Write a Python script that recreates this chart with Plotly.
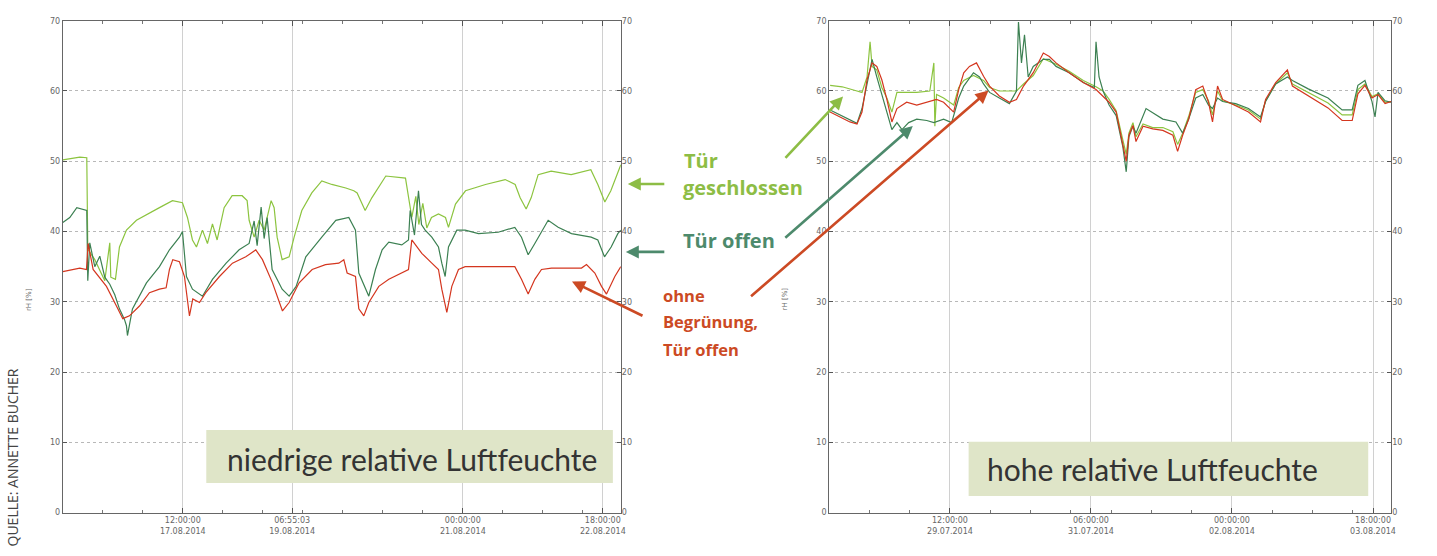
import plotly.graph_objects as go

# ---------------- data: hours since start of each measurement window ----------------
# Window 1: 16.08.2014 00:00 onward (low relative humidity)
low_closed_h = [0.0, 2.1, 5.1, 7.2, 7.5, 9.6, 11.1, 12.6, 14.1, 14.4, 15.8, 17.0, 19.1, 22.1, 29.0, 32.9,
                35.9, 37.4, 38.9, 40.1, 41.9, 43.4, 44.9, 46.3, 48.4, 50.8, 53.8, 55.3, 55.9, 57.4, 58.9,
                60.4, 62.5, 63.4, 64.3, 65.8, 67.9, 69.4, 71.7, 74.7, 77.7, 80.7, 84.9, 87.3, 88.3, 90.7,
                92.7, 96.9, 102.8, 103.8, 104.7, 105.9, 106.8, 108.0, 109.2, 110.6, 112.7, 114.8, 115.7,
                117.8, 120.8, 126.8, 132.7, 135.7, 137.2, 139.0, 140.5, 142.6, 146.5, 152.5, 158.4, 160.5,
                162.6, 164.4, 167.4]
low_closed_v = [50.2, 50.4, 50.6, 50.5, 37.5, 36.0, 34.5, 33.0, 38.4, 33.5, 33.2, 37.8, 40.2, 41.6, 43.4, 44.4,
                44.1, 42.0, 38.8, 37.8, 40.2, 38.3, 41.1, 38.8, 43.4, 45.1, 45.1, 44.4, 41.6, 39.2, 41.6,
                40.2, 44.4, 43.4, 39.2, 36.0, 36.4, 39.2, 43.0, 45.5, 47.2, 46.7, 46.2, 45.8, 45.5, 43.0,
                44.8, 47.9, 47.6, 44.8, 42.0, 45.0, 41.0, 44.0, 40.5, 42.0, 42.5, 42.0, 40.6,
                43.9, 45.8, 46.7, 47.4, 46.7, 44.8, 43.2, 44.8, 48.1, 48.6, 48.1, 48.8, 46.7,
                44.2, 45.8, 49.5]

low_open_h = [0.0, 2.1, 4.2, 6.0, 7.2, 7.5, 8.1, 9.6, 11.1, 12.6, 14.1, 15.6, 17.0, 18.5, 19.1, 19.4, 20.9,
              25.1, 29.0, 32.0, 35.0, 35.9, 37.1, 38.9, 41.9, 44.9, 49.0, 52.9, 55.9, 57.4, 58.3, 59.5,
              60.4, 61.3, 62.2, 62.8, 65.8, 67.9, 70.0, 72.9, 77.7, 81.9, 85.8, 87.8, 88.8, 90.8, 91.8,
              93.8, 95.8, 97.8, 101.7, 103.7, 104.2, 105.5, 106.7, 107.6, 108.7, 110.7, 112.7, 113.7,
              114.7, 115.7, 118.2, 120.7, 124.7, 130.6, 135.6, 137.6, 139.6, 141.6, 145.6, 148.6, 152.6,
              158.5, 160.5, 162.5, 164.5, 166.5, 167.4]
low_open_v = [41.3, 42.0, 43.4, 43.2, 43.0, 33.0, 38.4, 35.0, 36.5, 33.5, 32.5, 31.0, 29.0, 27.5, 26.6, 25.2, 29.0,
              32.7, 35.0, 37.4, 39.2, 40.0, 33.6, 31.8, 30.8, 33.2, 35.5, 37.4, 38.3, 41.5, 38.0, 43.5,
              39.0, 42.0, 37.8, 34.6, 31.8, 30.8, 32.2, 36.4, 39.2, 41.6, 42.0, 40.2, 34.1, 31.8, 30.8,
              34.6, 37.4, 38.5, 38.1, 38.8, 43.0, 39.5, 45.8, 41.0, 40.2, 39.2, 37.8, 35.5,
              33.6, 37.8, 40.2, 40.2, 39.7, 39.9, 40.6, 39.2, 36.7, 38.3, 41.6, 40.6, 39.7,
              39.2, 38.8, 36.4, 37.8, 39.7, 40.2]

low_bare_h = [0.0, 5.1, 7.1, 7.6, 9.1, 13.1, 16.1, 18.0, 20.0, 23.0, 26.0, 29.0, 31.0, 32.0, 33.0, 35.0,
              36.5, 37.5, 38.0, 39.0, 41.0, 42.9, 47.0, 50.9, 54.9, 57.9, 59.9, 62.9, 64.9, 65.9, 67.9,
              70.9, 74.8, 78.8, 82.8, 84.3, 85.3, 87.8, 88.8, 90.3, 91.8, 94.8, 97.8, 101.7, 103.7,
              104.7, 107.7, 110.7, 112.7, 113.7, 115.2, 116.7, 118.7, 120.7, 135.6, 137.6, 139.6, 141.6,
              143.6, 146.6, 155.6, 157.1, 159.6, 161.6, 163.1, 165.6, 167.4]
low_bare_v = [34.3, 34.8, 34.6, 38.3, 34.6, 32.2, 29.4, 27.6, 28.0, 29.4, 31.3, 31.8, 32.0, 34.6, 36.0, 35.7,
              33.6, 29.9, 28.0, 30.4, 29.9, 31.3, 33.6, 35.5, 36.4, 37.4, 36.0, 32.7, 29.9, 28.7, 29.9,
              32.7, 34.6, 35.3, 35.5, 36.0, 34.1, 33.6, 29.0, 28.0, 29.9, 32.2, 33.2, 34.1, 34.6,
              38.8, 36.9, 35.5, 34.6, 31.8, 28.5, 32.2, 34.6, 35.0, 35.0, 33.2, 31.1, 33.2,
              34.6, 34.8, 34.8, 35.3, 34.1, 32.2, 31.1, 33.6, 35.0]

# Window 2: 28.07.2014 00:00 onward (high relative humidity)
high_closed_h = [0.3, 3.9, 8.3, 9.8, 11.3, 12.2, 12.8, 14.2, 15.7, 17.2, 18.7, 20.2, 26.1, 30.0, 31.2, 31.5,
                 32.0, 34.1, 37.1, 38.6, 40.1, 43.0, 46.0, 47.8, 50.7, 53.7, 55.8, 57.9, 60.8, 63.8, 67.6,
                 71.5, 75.7, 79.5, 81.6, 83.4, 85.5, 87.5, 88.5, 89.3, 90.5, 91.4, 93.5, 96.4, 99.4, 102.4,
                 103.8, 105.3, 107.1, 109.2, 111.3, 113.0, 114.2, 115.7, 117.2, 121.1, 124.9, 128.5, 130.0,
                 133.0, 136.5, 138.0, 142.7, 148.6, 152.8, 155.8, 157.5, 159.6, 161.7, 163.5, 165.6, 167.4]
high_closed_v = [60.8, 60.6, 60.0, 59.8, 62.0, 67.0, 63.5, 63.0, 60.5, 59.0, 57.0, 59.8, 59.8, 60.0, 64.0, 55.0,
                 59.5, 59.0, 58.0, 60.5, 61.5, 62.2, 61.5, 60.5, 60.0, 60.0, 60.0, 61.0, 62.2, 64.6, 63.8,
                 62.8, 61.5, 60.6, 60.0, 58.8, 57.2, 53.0, 51.0, 54.0, 55.5, 53.5, 55.3, 54.8, 54.8, 54.2,
                 52.4, 54.0, 56.4, 59.8, 60.2, 58.6, 56.6, 60.0, 58.6, 58.0, 57.3, 56.0, 58.6,
                 61.0, 62.6, 61.0, 59.8, 58.3, 56.6, 56.6, 60.2, 61.0, 59.2, 59.6, 58.4, 58.5]

high_open_h = [0.3, 2.4, 6.2, 8.3, 9.8, 11.3, 12.8, 14.2, 15.7, 17.2, 18.7, 20.2, 21.7, 23.7, 26.1, 29.1,
               31.2, 34.1, 36.5, 38.6, 40.1, 43.0, 44.8, 46.0, 47.8, 50.7, 53.7, 55.8, 56.4, 57.3, 58.2,
               59.3, 60.8, 63.8, 65.6, 67.6, 71.5, 75.7, 79.0, 79.5, 80.4, 81.6, 83.4, 85.5, 87.5, 88.5,
               89.3, 90.5, 91.4, 94.4, 99.4, 103.3, 105.3, 107.1, 109.2, 111.3, 113.0, 114.2, 115.7, 117.2,
               121.1, 124.9, 128.5, 130.0, 133.0, 136.5, 138.0, 142.7, 148.6, 152.8, 155.8, 157.5, 159.6,
               161.7, 162.6, 163.5, 165.6, 167.4]
high_open_v = [57.3, 56.8, 55.8, 55.4, 57.5, 61.0, 64.5, 62.0, 59.5, 57.0, 54.5, 55.5, 54.5, 55.5, 56.0, 55.8,
               55.5, 56.0, 55.5, 59.0, 60.7, 62.6, 62.0, 61.0, 59.8, 59.0, 58.2, 60.0, 69.8, 64.0, 68.0,
               62.0, 63.5, 64.5, 64.5, 63.5, 62.6, 61.2, 60.5, 67.0, 62.0, 60.0, 58.0, 56.5, 52.0, 48.5,
               53.5, 55.0, 54.0, 57.5, 56.0, 55.6, 54.0, 56.0, 59.0, 59.5, 58.0, 57.5, 59.0, 58.5,
               58.2, 57.5, 56.3, 58.5, 61.0, 62.0, 61.5, 60.3, 59.0, 57.3, 57.3, 60.8, 61.5,
               58.5, 56.3, 59.8, 58.6, 58.4]

high_bare_h = [0.3, 2.4, 6.2, 8.3, 9.8, 11.3, 12.8, 14.2, 15.7, 17.2, 18.7, 20.2, 23.1, 26.1, 29.1, 32.0,
               34.1, 37.1, 38.6, 40.1, 41.8, 43.9, 46.0, 47.8, 50.7, 53.7, 55.8, 57.9, 60.8, 63.8, 65.6,
               67.6, 71.5, 75.7, 79.5, 81.6, 83.4, 85.5, 87.5, 88.5, 89.3, 90.5, 91.4, 93.5, 96.4, 99.4,
               102.4, 103.8, 105.3, 107.1, 109.2, 111.3, 113.0, 114.2, 115.7, 117.2, 121.1, 124.9, 128.5,
               130.0, 133.0, 136.5, 138.0, 142.7, 148.6, 152.8, 155.8, 157.5, 159.6, 161.7, 163.5, 165.6, 167.4]
high_bare_v = [57.0, 56.5, 55.6, 55.3, 57.0, 61.6, 64.0, 63.5, 61.6, 58.8, 55.6, 57.5, 58.4, 58.0, 58.4, 58.8,
               58.4, 57.0, 60.2, 62.6, 63.5, 64.0, 62.1, 60.7, 59.3, 58.4, 58.8, 60.7, 62.6, 65.4, 64.9,
               64.0, 62.6, 61.2, 60.2, 59.3, 58.4, 57.0, 52.3, 50.0, 53.7, 55.1, 52.8, 55.0, 54.6, 54.4,
               53.7, 51.4, 53.7, 56.0, 60.2, 60.7, 58.4, 55.6, 60.7, 58.8, 57.9, 57.0, 55.6,
               58.8, 61.2, 63.0, 60.7, 59.3, 57.6, 55.8, 55.8, 59.6, 60.8, 59.0, 59.5, 58.2, 58.5]

# tick positions (hours) and their labels
low_tick_h = [36, 68.8, 120, 162]
low_tick_text = ["12:00:00<br>17.08.2014", "06:55:03<br>19.08.2014",
                 "00:00:00<br>21.08.2014", "18:00:00<br>22.08.2014"]
high_tick_h = [36, 78, 120, 162]
high_tick_text = ["12:00:00<br>29.07.2014", "06:00:00<br>31.07.2014",
                  "00:00:00<br>02.08.2014", "18:00:00<br>03.08.2014"]
rh_ticks = [0, 10, 20, 30, 40, 50, 60, 70]

# ---------------- styling ----------------
W, H = 1437, 556
C_CLOSED = "#8cc43f"
C_OPEN = "#3c8052"
C_BARE = "#d4361f"
TXT_CLOSED = "#8dbd45"
TXT_OPEN = "#4d8a6c"
TXT_BARE = "#cc4a24"
BOX_FILL = "#dfe5c8"
TICK_FONT = dict(family="DejaVu Sans", size=8, color="#666666")


def px_x(p):
    return p / W


def px_y(p):
    return 1 - p / H


fig = go.Figure()

series = [
    ("x", "y", low_closed_h, low_closed_v, C_CLOSED),
    ("x", "y", low_open_h, low_open_v, C_OPEN),
    ("x", "y3", low_bare_h, low_bare_v, C_BARE),
    ("x2", "y2", high_closed_h, high_closed_v, C_CLOSED),
    ("x2", "y2", high_open_h, high_open_v, C_OPEN),
    ("x2", "y4", high_bare_h, high_bare_v, C_BARE),
]
for xa, ya, xs, ys, col in series:
    fig.add_trace(go.Scatter(x=xs, y=ys, xaxis=xa, yaxis=ya, mode="lines",
                             line=dict(color=col, width=1.2), showlegend=False,
                             hoverinfo="skip"))

dom_low = [px_x(63), px_x(623)]
dom_high = [px_x(832), px_x(1396)]
dom_y = [px_y(517), px_y(17)]

xcommon = dict(range=[0, 167.4], showline=True, linecolor="#666666", linewidth=1, mirror="ticks",
               ticks="inside", ticklen=5, tickcolor="#555555", tickfont=TICK_FONT,
               showgrid=True, gridcolor="#d0d0d0", gridwidth=1, zeroline=False,
               minor=dict(dtick=12, tick0=0, ticks="inside", ticklen=3, tickcolor="#777777",
                          showgrid=False))
ycommon = dict(range=[0, 70], tickvals=rh_ticks, showline=True, linecolor="#666666", linewidth=1,
               mirror=True, ticks="inside", ticklen=4, tickcolor="#555555", tickfont=TICK_FONT,
               showgrid=True, gridcolor="#b8b8b8", griddash="dot", gridwidth=1, zeroline=False,
               domain=dom_y)
yright = dict(range=[0, 70], tickvals=rh_ticks, side="right", showgrid=False, zeroline=False,
              ticks="inside", ticklen=4, tickcolor="#555555", tickfont=TICK_FONT, showline=False)

fig.update_layout(
    width=W, height=H, margin=dict(l=0, r=0, t=0, b=0),
    paper_bgcolor="white", plot_bgcolor="white",
    xaxis=dict(domain=dom_low, anchor="y", tickvals=low_tick_h, ticktext=low_tick_text, **xcommon),
    xaxis2=dict(domain=dom_high, anchor="y2", tickvals=high_tick_h, ticktext=high_tick_text, **xcommon),
    yaxis=dict(anchor="x", **ycommon),
    yaxis2=dict(anchor="x2", **ycommon),
    yaxis3=dict(overlaying="y", anchor="x", **yright),
    yaxis4=dict(overlaying="y2", anchor="x2", **yright),
)

# olive caption boxes
shapes = []
for (x0, y0, x1, y1) in [(207, 433, 615, 487), (972, 445, 1373, 500)]:
    shapes.append(dict(type="rect", xref="paper", yref="paper", x0=px_x(x0), x1=px_x(x1),
                       y0=px_y(y1), y1=px_y(y0), fillcolor=BOX_FILL, line=dict(width=0), layer="above"))
fig.update_layout(shapes=shapes)

ann = []
caption_font = dict(family="Lato", size=30, color="#333333")
ann.append(dict(xref="paper", yref="paper", x=px_x(413), y=px_y(462), text="niedrige relative Luftfeuchte",
                showarrow=False, font=caption_font, xanchor="center", yanchor="middle"))
ann.append(dict(xref="paper", yref="paper", x=px_x(1157), y=px_y(473), text="hohe relative Luftfeuchte",
                showarrow=False, font=caption_font, xanchor="center", yanchor="middle"))

# series labels between the panels
for txt, x, y, col, size in [("Tür", 684, 159, TXT_CLOSED, 20), ("geschlossen", 683, 187, TXT_CLOSED, 20),
                             ("Tür offen", 683, 240, TXT_OPEN, 20),
                             ("ohne", 663, 296, TXT_BARE, 16.5), ("Begrünung,", 663, 323, TXT_BARE, 16.5),
                             ("Tür offen", 663, 351, TXT_BARE, 16.5)]:
    ann.append(dict(xref="paper", yref="paper", x=px_x(x), y=px_y(y), text=txt, showarrow=False,
                    xanchor="left", yanchor="middle",
                    font=dict(family="Open Sans", size=size, weight="bold", color=col)))

# arrows: (tail px, head px, colour)
arrows = [((668, 183), (630, 183), TXT_CLOSED),
          ((668, 252), (628, 252), TXT_OPEN),
          ((646, 317), (574, 282), TXT_BARE),
          ((787, 157), (846, 94), TXT_CLOSED),
          ((787, 237), (916, 124), TXT_OPEN),
          ((753, 295), (992, 88), TXT_BARE)]
for (tx, ty), (hx, hy), col in arrows:
    ann.append(dict(xref="paper", yref="paper", x=px_x(hx), y=px_y(hy), ax=tx - hx, ay=ty - hy,
                    axref="pixel", ayref="pixel", text="", showarrow=True, arrowhead=2,
                    arrowsize=1.0, arrowwidth=2.6, arrowcolor=col))

# axis titles
for x in (29, 788):
    ann.append(dict(xref="paper", yref="paper", x=px_x(x), y=px_y(300), text="rH [%]", showarrow=False,
                    textangle=-90, xanchor="center", yanchor="middle",
                    font=dict(family="DejaVu Sans", size=7, color="#666666")))

# source credit
ann.append(dict(xref="paper", yref="paper", x=px_x(13), y=px_y(461), text="QUELLE: ANNETTE BUCHER",
                showarrow=False, textangle=-90, xanchor="center", yanchor="middle",
                font=dict(family="Open Sans", size=14, color="#444444")))

fig.update_layout(annotations=ann)
fig.write_html("out.html")
